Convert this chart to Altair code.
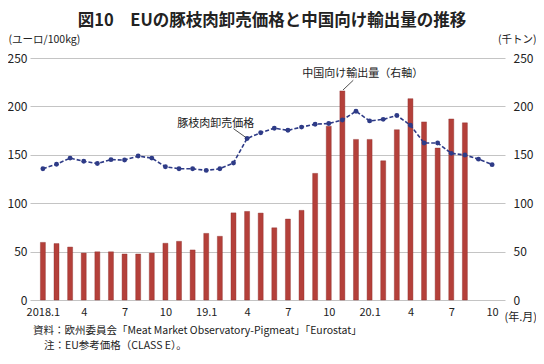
import altair as alt
import pandas as pd

months = list(range(34))  # 2018.1 .. 2020.10
price = [135.6, 140.3, 146.6, 143.3, 141.0, 145.0, 144.6, 148.7, 146.6, 137.6,
         135.6, 135.6, 133.9, 135.6, 141.6, 166.8, 172.8, 177.5, 175.3, 178.6,
         181.6, 182.3, 186.0, 195.0, 185.0, 186.6, 190.6, 180.6, 162.2, 162.2,
         151.5, 149.8, 145.5, 139.8]
exports = [59.5, 58.3, 54.7, 48.5, 49.8, 49.8, 47.5, 47.5, 48.5, 58.6,
           60.6, 51.7, 68.8, 65.8, 90.0, 91.5, 89.8, 74.6, 83.6, 92.6,
           130.8, 179.6, 216.0, 165.9, 165.9, 143.8, 175.9, 208.0, 184.0, 156.9,
           187.0, 183.0]
tick_values = [0, 3, 6, 9, 12, 15, 18, 21, 24, 27, 30, 33]
tick_labels = ["2018.1", "4", "7", "10", "19.1", "4", "7", "10", "20.1", "4", "7", "10"]
title_text = "図10　EUの豚枝肉卸売価格と中国向け輸出量の推移"
notes = ["資料：欧州委員会「Meat Market Observatory-Pigmeat」「Eurostat」",
         "注：EU参考価格（CLASS E）。"]

FONT = "Noto Sans CJK JP"
DARK = "#222222"
price_df = pd.DataFrame({"m": months, "price": price})
exp_df = pd.DataFrame({"m": months[:len(exports)], "exports": exports})

label_expr = "[" + ",".join(f"'{t}'" for t in tick_labels) + "][round(datum.value/3)]"
xscale = alt.Scale(domain=[-0.58, 33.58], nice=False, zero=False)
yscale = alt.Scale(domain=[0, 250])
xaxis = alt.Axis(values=tick_values, labelExpr=label_expr, grid=False, ticks=False,
                 domain=False, labelFontSize=11, labelFont=FONT, labelColor=DARK,
                 labelPadding=6, title="(年.月)", titleFont=FONT, titleFontSize=11,
                 titleFontWeight="normal", titleColor=DARK,
                 titleX=474, titleY=11, titleAlign="left", titleBaseline="top",
                 labelFlush=False)

bars = alt.Chart(exp_df).mark_bar(size=5, color="#b4403a", stroke="#8a2c28",
                                  strokeWidth=0.4).encode(
    x=alt.X("m:Q", scale=xscale, axis=xaxis),
    y=alt.Y("exports:Q", scale=yscale,
            axis=alt.Axis(orient="right", values=[0, 50, 100, 150, 200, 250], grid=False,
                          ticks=False, domain=False, labelFontSize=12, labelFont=FONT,
                          labelColor=DARK, labelPadding=8, labelAlign="left",
                          title="(千トン)", titleAngle=0, titleFont=FONT,
                          titleFontSize=10.5, titleFontWeight="normal", titleColor=DARK,
                          titleX=31, titleY=-14, titleAlign="right", titleBaseline="bottom")),
)

line = alt.Chart(price_df).mark_line(
    color="#2e3b87", strokeWidth=1.6, strokeDash=[4, 2],
    point=alt.OverlayMarkDef(filled=True, color="#2e3b87", size=24)
).encode(
    x=alt.X("m:Q", scale=xscale, axis=xaxis),
    y=alt.Y("price:Q", scale=yscale,
            axis=alt.Axis(orient="left", values=[0, 50, 100, 150, 200, 250], grid=True,
                          gridColor="#c4c4c4", gridWidth=1, ticks=False, domain=False,
                          labelFontSize=12, labelFont=FONT, labelColor=DARK,
                          labelPadding=3, title="(ユーロ/100kg)", titleAngle=0,
                          titleFont=FONT, titleFontSize=10.5, titleFontWeight="normal",
                          titleColor=DARK, titleX=-22, titleY=-14, titleAlign="left",
                          titleBaseline="bottom")),
)

ann_text = pd.DataFrame({"x": [12.7, 23.5], "y": [182, 233],
                         "t": ["豚枝肉卸売価格", "中国向け輸出量（右軸）"]})
ann_lines = pd.DataFrame({"x": [14.0, 22.8], "y": [177, 227],
                          "x2": [14.9, 22.05], "y2": [168, 217]})

texts = alt.Chart(ann_text).mark_text(font=FONT, fontSize=11, color=DARK).encode(
    x=alt.X("x:Q", scale=xscale), y=alt.Y("y:Q", scale=yscale), text="t:N")
leaders = alt.Chart(ann_lines).mark_rule(color=DARK, strokeWidth=0.8).encode(
    x=alt.X("x:Q", scale=xscale), y=alt.Y("y:Q", scale=yscale),
    x2="x2:Q", y2="y2:Q")

title_mark = alt.Chart(pd.DataFrame({"t": [title_text]})).mark_text(
    font=FONT, fontSize=16.5, fontWeight="bold", color=DARK, align="center",
    baseline="middle").encode(x=alt.value(242), y=alt.value(-37), text="t:N")
note0 = alt.Chart(pd.DataFrame({"t": [notes[0]]})).mark_text(
    font=FONT, fontSize=10.5, color=DARK, align="left", baseline="middle").encode(
    x=alt.value(3), y=alt.value(273), text="t:N")
note1 = alt.Chart(pd.DataFrame({"t": [notes[1]]})).mark_text(
    font=FONT, fontSize=10.5, color=DARK, align="left", baseline="middle").encode(
    x=alt.value(14), y=alt.value(288), text="t:N")

left_layer = alt.layer(line, texts, leaders, title_mark, note0, note1)
chart = alt.layer(bars, left_layer).resolve_scale(y="independent").properties(
    width=475, height=242,
    autosize=alt.AutoSizeParams(type="none"),
    padding={"left": 22, "top": 50, "right": 31, "bottom": 56},
).configure_view(stroke=None)

chart.save("out.html", embed_options={"renderer": "svg", "actions": False})
